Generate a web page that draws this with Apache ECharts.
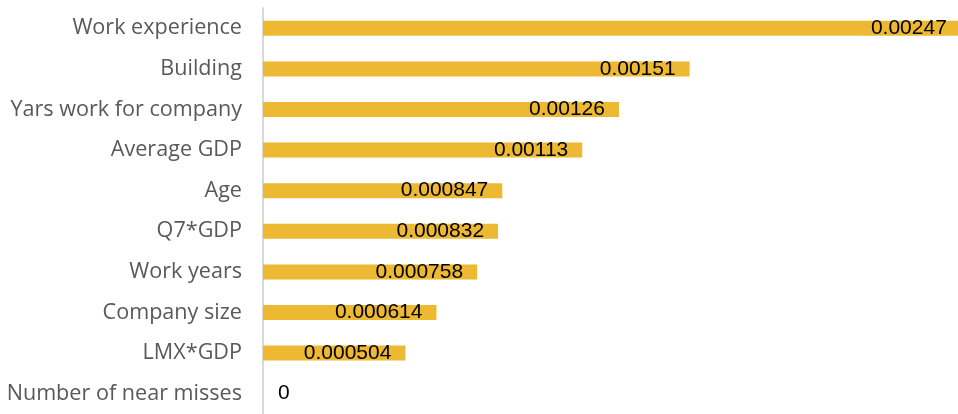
<!DOCTYPE html>
<html>
<head>
<meta charset="utf-8">
<script src="https://cdn.jsdelivr.net/npm/echarts@6/dist/echarts.min.js"></script>
<style>
  html, body { margin: 0; padding: 0; background: #ffffff; }
  #chart { width: 958px; height: 414px; }
</style>
</head>
<body>
<div id="chart"></div>
<script>
// Feature importance, largest first
const categories = [
  'Work experience',
  'Building',
  'Yars work for company',
  'Average GDP',
  'Age',
  'Q7*GDP',
  'Work years',
  'Company size',
  'LMX*GDP',
  'Number of near misses'
];
const importance = [0.00247, 0.00151, 0.00126, 0.00113, 0.000847, 0.000832, 0.000758, 0.000614, 0.000504, 0];
const valueLabels = ['0.00247', '0.00151', '0.00126', '0.00113', '0.000847', '0.000832', '0.000758', '0.000614', '0.000504', '0'];

const chart = echarts.init(document.getElementById('chart'));

const seriesData = importance.map((v, i) => {
  const item = { value: v };
  if (v === 0) {
    item.label = { position: 'right', distance: 15 };
  }
  return item;
});

chart.setOption({
  animation: false,
  grid: { left: 263, right: -2, top: 8, bottom: 0, containLabel: false },
  xAxis: {
    type: 'value',
    min: 0,
    max: 0.00246,
    show: false
  },
  yAxis: {
    type: 'category',
    data: categories,
    inverse: true,
    axisLine: { show: true, lineStyle: { color: '#d9d9d9', width: 2 } },
    axisTick: { show: false },
    splitLine: { show: false },
    axisLabel: {
      color: '#595959',
      fontSize: 21.6,
      fontFamily: 'Open Sans',
      margin: 21
    }
  },
  series: [{
    type: 'bar',
    data: seriesData,
    barWidth: 15,
    clip: false,
    itemStyle: { color: '#EDB832' },
    label: {
      show: true,
      position: 'insideRight',
      distance: 14,
      color: '#000000',
      fontSize: 21,
      fontFamily: 'Liberation Sans',
      formatter: p => valueLabels[p.dataIndex]
    }
  }]
});
</script>
</body>
</html>
